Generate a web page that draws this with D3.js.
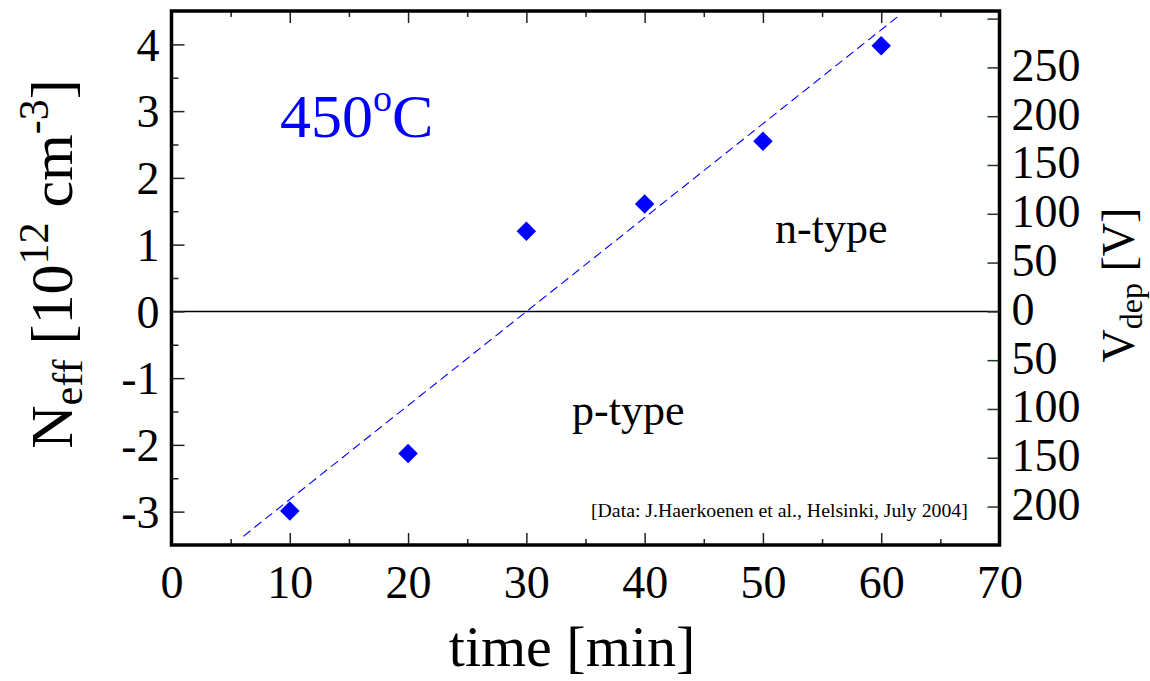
<!DOCTYPE html>
<html><head><meta charset="utf-8">
<script src="https://cdn.jsdelivr.net/npm/d3@7"></script>
<style>body{margin:0;background:#fff}svg{display:block}text{font-family:"Liberation Serif","Times New Roman",serif}</style>
</head><body><svg id="c" width="1150" height="681"></svg>
<script>
// data
const times = [10, 20, 30, 40, 50, 60];
const neff = [-2.99, -2.13, 1.20, 1.61, 2.55, 3.98];
const fitTimes = [6.07, 61.5];
const fitNeff = [-3.37, 4.43];
const xTicks = [0, 10, 20, 30, 40, 50, 60, 70];
const yTicks = [-3, -2, -1, 0, 1, 2, 3, 4];
const yLabels = ["-3", "-2", "-1", "0", "1", "2", "3", "4"];
const vTicks = [-200, -150, -100, -50, 0, 50, 100, 150, 200, 250, 300];
const vLabels = ["200", "150", "100", "50", "0", "50", "100", "150", "200", "250", ""];
const voltPerNeff = 68.4;

(function(){
const svg = d3.select("#c");
svg.append("rect").attr("width",1150).attr("height",681).attr("fill","#fff");
const L=171.5, R=999.5, T=11, B=545;
const x = d3.scaleLinear().domain([0,70]).range([L,R]);
const y = d3.scaleLinear().domain([-3.5,4.5]).range([B,T]);
const yv = d3.scaleLinear().domain([-3.5*voltPerNeff, 4.5*voltPerNeff]).range([B,T]);
const FF = '"Liberation Serif","Times New Roman",serif';

// zero line
svg.append("line").attr("x1",L).attr("x2",R).attr("y1",y(0)).attr("y2",y(0)).attr("stroke","#000").attr("stroke-width",1.5);

// axes with inward ticks
const gBottom = svg.append("g").attr("transform",`translate(0,${B})`)
  .call(d3.axisBottom(x).tickValues(xTicks).tickSize(-12).tickPadding(20).tickFormat(d=>String(d)));
const gBottomMinor = svg.append("g").attr("transform",`translate(0,${B})`)
  .call(d3.axisBottom(x).tickValues(d3.range(5,70,10)).tickSize(-6).tickFormat(""));
const gTop = svg.append("g").attr("transform",`translate(0,${T})`)
  .call(d3.axisTop(x).tickValues(xTicks).tickSize(-12).tickFormat(""));
const gTopMinor = svg.append("g").attr("transform",`translate(0,${T})`)
  .call(d3.axisTop(x).tickValues(d3.range(5,70,10)).tickSize(-6).tickFormat(""));
const gLeft = svg.append("g").attr("transform",`translate(${L},0)`)
  .call(d3.axisLeft(y).tickValues(yTicks).tickSize(-13).tickPadding(12).tickFormat((d,i)=>yLabels[i]));
const gLeftMinor = svg.append("g").attr("transform",`translate(${L},0)`)
  .call(d3.axisLeft(y).tickValues(d3.range(-2.5,4.5,1)).tickSize(-7).tickFormat(""));
const gRight = svg.append("g").attr("transform",`translate(${R},0)`)
  .call(d3.axisRight(yv).tickValues(vTicks).tickSize(-12).tickPadding(12).tickFormat((d,i)=>vLabels[i]));

[gBottom,gBottomMinor,gTop,gTopMinor,gLeft,gLeftMinor,gRight].forEach(g=>{
  g.select(".domain").remove();
  g.selectAll(".tick line").attr("stroke","#222").attr("stroke-width",1.5);
  g.selectAll(".tick text").attr("font-family",FF).attr("fill","#000");
});
gBottom.selectAll(".tick text").attr("font-size",46).attr("dy","0.72em");
gLeft.selectAll(".tick text").attr("font-size",46).attr("dy","0.34em");
gRight.selectAll(".tick text").attr("font-size",46).attr("dy","0.28em");
gRight.selectAll(".tick line").attr("stroke","#1f3a1f");

// frame
svg.append("rect").attr("x",L).attr("y",T).attr("width",R-L).attr("height",B-T)
  .attr("fill","none").attr("stroke","#000").attr("stroke-width",3.5);

// fit line
svg.append("path").datum(fitTimes.map((t,i)=>[t,fitNeff[i]]))
  .attr("d",d3.line().x(d=>x(d[0])).y(d=>y(d[1])))
  .attr("stroke","#0000ff").attr("stroke-width",1.1).attr("fill","none").attr("stroke-dasharray","9,5");

// points
svg.append("g").selectAll("path").data(times.map((t,i)=>[t,neff[i]])).join("path")
  .attr("d",d3.symbol().type(d3.symbolSquare).size(190))
  .attr("transform",d=>`translate(${x(d[0])},${y(d[1])}) rotate(45)`)
  .attr("fill","#0000ff");

// annotations
const t450 = svg.append("text").attr("x",280).attr("y",137).attr("fill","#0000ff").attr("font-size",62);
t450.append("tspan").text("450");
t450.append("tspan").attr("font-size",38).attr("dy",-26).text("o");
t450.append("tspan").attr("dy",26).text("C");

svg.append("text").attr("x",775).attr("y",243).attr("font-size",44).text("n-type");
svg.append("text").attr("x",572).attr("y",425).attr("font-size",44).text("p-type");
svg.append("text").attr("x",591).attr("y",517).attr("font-size",19.8)
  .text("[Data: J.Haerkoenen et al., Helsinki, July 2004]");

// x title
svg.append("text").attr("x",572).attr("y",666).attr("text-anchor","middle").attr("font-size",58).text("time [min]");

// left title
const lt = svg.append("text").attr("transform","translate(72,264) rotate(-90)").attr("text-anchor","middle").attr("font-size",60);
lt.append("tspan").text("N");
lt.append("tspan").attr("font-size",42).attr("dy",10).text("eff");
lt.append("tspan").attr("dy",-10).text(" [10");
lt.append("tspan").attr("font-size",42).attr("dy",-24).text("12");
lt.append("tspan").attr("dy",24).text(" cm");
lt.append("tspan").attr("font-size",42).attr("dy",-24).text("-3");
lt.append("tspan").attr("dy",24).text("]");

// right title
const rt = svg.append("text").attr("transform","translate(1134,285) rotate(-90)").attr("text-anchor","middle").attr("font-size",46);
rt.append("tspan").text("V");
rt.append("tspan").attr("font-size",32).attr("dy",8).text("dep");
rt.append("tspan").attr("dy",-8).text(" [V]");
})();
</script></body></html>
